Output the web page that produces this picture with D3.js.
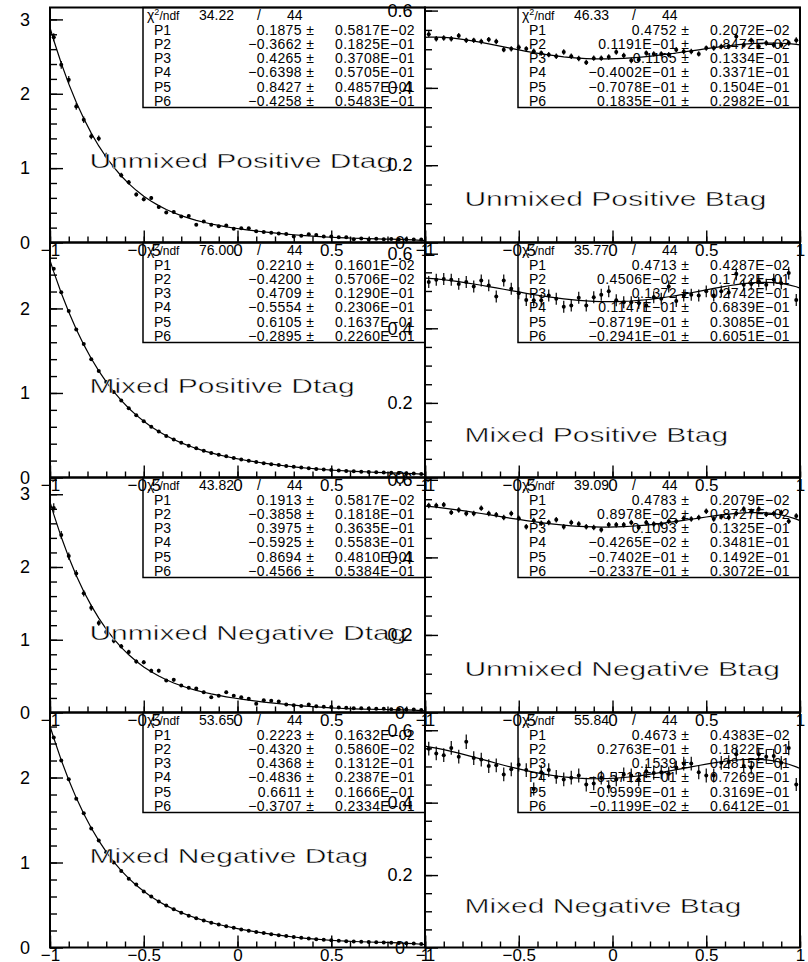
<!DOCTYPE html>
<html><head><meta charset="utf-8">
<script src="https://cdn.jsdelivr.net/npm/d3@7"></script>
<style>
html,body{margin:0;padding:0;background:#fff;}
svg{display:block;}
</style></head><body>
<svg id="chart" width="808" height="962"></svg>
<script>
// ---------------- DATA ----------------
const binCenters = d3.range(50).map(i => -0.98 + 0.04 * i);
const fitX = [-1].concat(binCenters, [1]);

const xTickValues = [-1, -0.5, 0, 0.5, 1];
const xTickLabels = ["\u22121", "\u22120.5", "0", "0.5", "1"];
const yTickValuesD = [0, 1, 2, 3];
const yTickLabelsD = ["0", "1", "2", "3"];
const yTickValuesB = [0, 0.2, 0.4, 0.6];
const yTickLabelsB = ["0", "0.2", "0.4", "0.6"];

const titles = ["Unmixed Positive Dtag", "Unmixed Positive Btag", "Mixed Positive Dtag", "Mixed Positive Btag",
                "Unmixed Negative Dtag", "Unmixed Negative Btag", "Mixed Negative Dtag", "Mixed Negative Btag"];

// measured bin contents
const valsA = [2.76, 2.39, 2.19, 1.83, 1.65, 1.43, 1.40, 1.17, 1.03, 0.905,
  0.81, 0.645, 0.58, 0.60, 0.477, 0.405, 0.41, 0.35, 0.355, 0.24,
  0.284, 0.24, 0.22, 0.23, 0.185, 0.19, 0.19, 0.15, 0.14, 0.13,
  0.12, 0.113, 0.08, 0.09, 0.11, 0.10, 0.08, 0.08, 0.07, 0.07,
  0.045, 0.055, 0.04, 0.05, 0.045, 0.048, 0.04, 0.045, 0.04, 0.04];
const errA = [0.055, 0.052, 0.05, 0.046, 0.044, 0.04, 0.04, 0.036, 0.034, 0.032,
  0.03, 0.027, 0.026, 0.026, 0.023, 0.021, 0.021, 0.02, 0.02, 0.016,
  0.018, 0.016, 0.015, 0.016, 0.014, 0.014, 0.014, 0.013, 0.012, 0.012,
  0.011, 0.011, 0.009, 0.01, 0.011, 0.01, 0.009, 0.009, 0.009, 0.009,
  0.007, 0.008, 0.007, 0.007, 0.007, 0.007, 0.007, 0.007, 0.007, 0.007];

const valsE = [0.539, 0.527, 0.529, 0.527, 0.535, 0.523, 0.523, 0.520, 0.525, 0.520,
  0.499, 0.501, 0.505, 0.501, 0.495, 0.490, 0.486, 0.482, 0.493, 0.482,
  0.476, 0.466, 0.477, 0.477, 0.480, 0.493, 0.484, 0.471, 0.473, 0.490,
  0.488, 0.488, 0.486, 0.499, 0.494, 0.494, 0.488, 0.503, 0.503, 0.507,
  0.507, 0.533, 0.511, 0.523, 0.507, 0.516, 0.511, 0.511, 0.516, 0.523];
const errE = [0.008, 0.007, 0.007, 0.007, 0.007, 0.007, 0.007, 0.007, 0.007, 0.007,
  0.007, 0.007, 0.007, 0.007, 0.007, 0.007, 0.007, 0.007, 0.007, 0.007,
  0.007, 0.007, 0.007, 0.007, 0.007, 0.007, 0.007, 0.007, 0.007, 0.007,
  0.007, 0.007, 0.007, 0.007, 0.007, 0.007, 0.007, 0.007, 0.007, 0.007,
  0.007, 0.008, 0.007, 0.007, 0.007, 0.007, 0.007, 0.007, 0.007, 0.008];

const valsB = [2.47, 2.19, 1.97, 1.75, 1.58, 1.40, 1.26, 1.13, 1.01, 0.91,
  0.82, 0.735, 0.665, 0.60, 0.545, 0.49, 0.45, 0.41, 0.375, 0.345,
  0.315, 0.29, 0.27, 0.25, 0.23, 0.213, 0.197, 0.183, 0.17, 0.158,
  0.147, 0.137, 0.127, 0.118, 0.11, 0.102, 0.095, 0.088, 0.083, 0.078,
  0.073, 0.069, 0.065, 0.062, 0.059, 0.055, 0.053, 0.049, 0.046, 0.042];
const errB = [0.016, 0.015, 0.014, 0.013, 0.012, 0.012, 0.011, 0.011, 0.01, 0.01,
  0.009, 0.009, 0.008, 0.008, 0.008, 0.007, 0.007, 0.007, 0.006, 0.006,
  0.006, 0.006, 0.005, 0.005, 0.005, 0.005, 0.005, 0.005, 0.004, 0.004,
  0.004, 0.004, 0.004, 0.004, 0.004, 0.003, 0.003, 0.003, 0.003, 0.003,
  0.003, 0.003, 0.003, 0.003, 0.003, 0.003, 0.003, 0.003, 0.003, 0.003];

const valsF = [0.524, 0.530, 0.532, 0.530, 0.519, 0.524, 0.512, 0.528, 0.515, 0.485,
  0.528, 0.506, 0.494, 0.476, 0.475, 0.475, 0.488, 0.479, 0.458, 0.461,
  0.482, 0.461, 0.483, 0.490, 0.499, 0.475, 0.470, 0.470, 0.468, 0.461,
  0.483, 0.479, 0.512, 0.473, 0.488, 0.490, 0.488, 0.499, 0.488, 0.499,
  0.496, 0.546, 0.517, 0.519, 0.526, 0.517, 0.530, 0.521, 0.548, 0.476];
const errF = [0.016, 0.016, 0.016, 0.016, 0.016, 0.016, 0.016, 0.016, 0.016, 0.016,
  0.016, 0.016, 0.016, 0.016, 0.016, 0.016, 0.016, 0.016, 0.016, 0.016,
  0.016, 0.016, 0.016, 0.016, 0.016, 0.016, 0.016, 0.016, 0.016, 0.016,
  0.016, 0.016, 0.016, 0.016, 0.016, 0.016, 0.016, 0.016, 0.016, 0.016,
  0.016, 0.017, 0.016, 0.016, 0.016, 0.016, 0.016, 0.016, 0.017, 0.016];

const valsC = [2.81, 2.44, 2.15, 1.91, 1.64, 1.44, 1.23, 1.105, 0.986, 0.91,
  0.83, 0.70, 0.69, 0.575, 0.575, 0.44, 0.45, 0.37, 0.34, 0.33,
  0.28, 0.21, 0.23, 0.28, 0.23, 0.21, 0.19, 0.12, 0.17, 0.16,
  0.15, 0.11, 0.10, 0.09, 0.11, 0.085, 0.08, 0.075, 0.07, 0.065,
  0.06, 0.06, 0.055, 0.05, 0.05, 0.045, 0.045, 0.04, 0.04, 0.035];
const errC = [0.065, 0.055, 0.05, 0.047, 0.044, 0.041, 0.038, 0.036, 0.034, 0.032,
  0.031, 0.028, 0.028, 0.026, 0.026, 0.022, 0.023, 0.02, 0.02, 0.019,
  0.018, 0.016, 0.016, 0.018, 0.016, 0.015, 0.015, 0.012, 0.014, 0.013,
  0.013, 0.011, 0.011, 0.01, 0.011, 0.01, 0.01, 0.009, 0.009, 0.009,
  0.008, 0.008, 0.008, 0.008, 0.008, 0.007, 0.007, 0.007, 0.007, 0.006];

const valsG = [0.534, 0.534, 0.536, 0.516, 0.522, 0.513, 0.513, 0.527, 0.513, 0.510,
  0.503, 0.513, 0.501, 0.479, 0.495, 0.488, 0.490, 0.497, 0.479, 0.490,
  0.486, 0.479, 0.477, 0.471, 0.484, 0.484, 0.484, 0.490, 0.477, 0.490,
  0.486, 0.486, 0.493, 0.493, 0.501, 0.499, 0.503, 0.519, 0.499, 0.505,
  0.503, 0.513, 0.525, 0.519, 0.525, 0.511, 0.513, 0.516, 0.493, 0.507];
const errG = [0.007, 0.007, 0.007, 0.007, 0.007, 0.007, 0.007, 0.007, 0.007, 0.007,
  0.007, 0.007, 0.007, 0.007, 0.007, 0.007, 0.007, 0.007, 0.007, 0.007,
  0.007, 0.007, 0.007, 0.007, 0.007, 0.007, 0.007, 0.007, 0.007, 0.007,
  0.007, 0.007, 0.007, 0.007, 0.007, 0.007, 0.007, 0.007, 0.007, 0.007,
  0.007, 0.007, 0.007, 0.007, 0.007, 0.007, 0.007, 0.007, 0.007, 0.007];

const valsD = [2.47, 2.20, 1.98, 1.75, 1.58, 1.40, 1.26, 1.12, 1.00, 0.90,
  0.81, 0.74, 0.66, 0.60, 0.54, 0.495, 0.45, 0.41, 0.375, 0.345,
  0.318, 0.292, 0.27, 0.25, 0.231, 0.213, 0.198, 0.183, 0.17, 0.157,
  0.145, 0.134, 0.124, 0.114, 0.106, 0.098, 0.091, 0.085, 0.08, 0.075,
  0.071, 0.068, 0.065, 0.062, 0.059, 0.057, 0.054, 0.05, 0.046, 0.042];
const errD = [0.016, 0.015, 0.014, 0.013, 0.012, 0.012, 0.011, 0.011, 0.01, 0.01,
  0.009, 0.009, 0.008, 0.008, 0.008, 0.007, 0.007, 0.007, 0.006, 0.006,
  0.006, 0.006, 0.005, 0.005, 0.005, 0.005, 0.005, 0.005, 0.004, 0.004,
  0.004, 0.004, 0.004, 0.004, 0.004, 0.003, 0.003, 0.003, 0.003, 0.003,
  0.003, 0.003, 0.003, 0.003, 0.003, 0.003, 0.003, 0.003, 0.003, 0.003];

const valsH = [0.549, 0.536, 0.531, 0.551, 0.527, 0.568, 0.523, 0.519, 0.501, 0.503,
  0.478, 0.492, 0.505, 0.490, 0.438, 0.484, 0.490, 0.471, 0.464, 0.469,
  0.475, 0.450, 0.453, 0.469, 0.444, 0.464, 0.478, 0.475, 0.464, 0.487,
  0.482, 0.484, 0.480, 0.497, 0.508, 0.508, 0.484, 0.475, 0.475, 0.510,
  0.512, 0.534, 0.501, 0.497, 0.534, 0.527, 0.529, 0.510, 0.551, 0.450];
const errH = [0.019, 0.019, 0.019, 0.019, 0.019, 0.02, 0.019, 0.019, 0.019, 0.019,
  0.019, 0.019, 0.019, 0.019, 0.018, 0.019, 0.019, 0.019, 0.019, 0.019,
  0.019, 0.019, 0.019, 0.019, 0.018, 0.019, 0.019, 0.019, 0.019, 0.019,
  0.019, 0.019, 0.019, 0.019, 0.019, 0.019, 0.019, 0.019, 0.019, 0.019,
  0.019, 0.019, 0.019, 0.019, 0.019, 0.019, 0.019, 0.019, 0.02, 0.018];

// fitted curves sampled at x = -1, bin centres, +1
const fitA = [2.8885, 2.7203, 2.4104, 2.1333, 1.8861, 1.6662, 1.4711, 1.2985, 1.1462, 1.0121, 0.8945, 0.7915, 0.7016, 0.6232, 0.5550, 0.4957, 0.4443, 0.3997, 0.3609, 0.3271, 0.2977, 0.2719, 0.2492, 0.2291, 0.2112, 0.1950,
  0.1803, 0.1669, 0.1546, 0.1431, 0.1325, 0.1225, 0.1132, 0.1045, 0.0965, 0.0890, 0.0822, 0.0760, 0.0704, 0.0655, 0.0612, 0.0574, 0.0542, 0.0515, 0.0490, 0.0467, 0.0444, 0.0417, 0.0384, 0.0342, 0.0285, 0.0249];
const fitB = [2.5673, 2.4324, 2.1823, 1.9568, 1.7539, 1.5716, 1.4082, 1.2620, 1.1315, 1.0151, 0.9115, 0.8195, 0.7378, 0.6654, 0.6012, 0.5444, 0.4941, 0.4495, 0.4100, 0.3749, 0.3437, 0.3158, 0.2908, 0.2683, 0.2480, 0.2296,
  0.2128, 0.1974, 0.1832, 0.1701, 0.1581, 0.1468, 0.1363, 0.1266, 0.1177, 0.1094, 0.1017, 0.0948, 0.0884, 0.0827, 0.0775, 0.0729, 0.0688, 0.0652, 0.0618, 0.0587, 0.0557, 0.0526, 0.0491, 0.0452, 0.0403, 0.0375];
const fitC = [2.8931, 2.7234, 2.4112, 2.1325, 1.8843, 1.6640, 1.4689, 1.2966, 1.1449, 1.0116, 0.8948, 0.7927, 0.7037, 0.6262, 0.5589, 0.5004, 0.4496, 0.4054, 0.3670, 0.3334, 0.3040, 0.2781, 0.2551, 0.2345, 0.2160, 0.1992,
  0.1837, 0.1695, 0.1562, 0.1438, 0.1321, 0.1212, 0.1109, 0.1013, 0.0923, 0.0841, 0.0766, 0.0698, 0.0638, 0.0585, 0.0541, 0.0503, 0.0473, 0.0448, 0.0428, 0.0410, 0.0393, 0.0374, 0.0349, 0.0314, 0.0265, 0.0233];
const fitD = [2.6065, 2.4652, 2.2042, 1.9701, 1.7605, 1.5732, 1.4062, 1.2576, 1.1256, 1.0086, 0.9050, 0.8133, 0.7323, 0.6609, 0.5978, 0.5420, 0.4928, 0.4492, 0.4105, 0.3761, 0.3454, 0.3178, 0.2929, 0.2704, 0.2499, 0.2311,
  0.2138, 0.1979, 0.1830, 0.1693, 0.1565, 0.1446, 0.1336, 0.1234, 0.1141, 0.1055, 0.0978, 0.0909, 0.0848, 0.0794, 0.0748, 0.0708, 0.0674, 0.0645, 0.0618, 0.0593, 0.0566, 0.0535, 0.0496, 0.0446, 0.0380, 0.0339];
const fitE = [0.5307, 0.5312, 0.5315, 0.5308, 0.5292, 0.5270, 0.5243, 0.5211, 0.5176, 0.5139, 0.5100, 0.5061, 0.5022, 0.4984, 0.4947, 0.4913, 0.4881, 0.4852, 0.4826, 0.4803, 0.4785, 0.4770, 0.4759, 0.4752, 0.4749, 0.4750,
  0.4755, 0.4763, 0.4775, 0.4790, 0.4808, 0.4829, 0.4852, 0.4877, 0.4903, 0.4930, 0.4958, 0.4986, 0.5014, 0.5041, 0.5067, 0.5091, 0.5112, 0.5130, 0.5144, 0.5155, 0.5160, 0.5161, 0.5155, 0.5143, 0.5124, 0.5112];
const fitF = [0.5347, 0.5340, 0.5323, 0.5302, 0.5277, 0.5250, 0.5220, 0.5188, 0.5154, 0.5119, 0.5083, 0.5047, 0.5010, 0.4974, 0.4938, 0.4904, 0.4872, 0.4841, 0.4814, 0.4788, 0.4766, 0.4748, 0.4733, 0.4722, 0.4715, 0.4713,
  0.4714, 0.4721, 0.4731, 0.4746, 0.4765, 0.4788, 0.4815, 0.4845, 0.4878, 0.4914, 0.4952, 0.4990, 0.5029, 0.5068, 0.5105, 0.5140, 0.5171, 0.5197, 0.5218, 0.5230, 0.5232, 0.5224, 0.5203, 0.5166, 0.5113, 0.5078];
const fitG = [0.5322, 0.5313, 0.5294, 0.5271, 0.5246, 0.5220, 0.5192, 0.5162, 0.5132, 0.5101, 0.5070, 0.5039, 0.5008, 0.4978, 0.4949, 0.4921, 0.4896, 0.4872, 0.4850, 0.4831, 0.4815, 0.4802, 0.4792, 0.4785, 0.4782, 0.4782,
  0.4785, 0.4792, 0.4803, 0.4817, 0.4834, 0.4853, 0.4876, 0.4901, 0.4927, 0.4955, 0.4984, 0.5013, 0.5042, 0.5070, 0.5095, 0.5118, 0.5136, 0.5150, 0.5157, 0.5156, 0.5147, 0.5127, 0.5094, 0.5048, 0.4987, 0.4949];
const fitH = [0.5559, 0.5543, 0.5507, 0.5465, 0.5417, 0.5367, 0.5313, 0.5258, 0.5201, 0.5145, 0.5089, 0.5034, 0.4981, 0.4931, 0.4884, 0.4841, 0.4802, 0.4767, 0.4736, 0.4711, 0.4691, 0.4675, 0.4666, 0.4661, 0.4662, 0.4668,
  0.4679, 0.4695, 0.4715, 0.4740, 0.4768, 0.4800, 0.4834, 0.4871, 0.4910, 0.4949, 0.4988, 0.5027, 0.5064, 0.5099, 0.5130, 0.5157, 0.5178, 0.5192, 0.5198, 0.5195, 0.5181, 0.5155, 0.5115, 0.5060, 0.4988, 0.4945];

// fit statistics
const chi2 = ["34.22", "46.33", "76.00", "35.77", "43.82", "39.09", "53.65", "55.84"];
const ndf = ["44", "44", "44", "44", "44", "44", "44", "44"];
const parA = ["0.1875", "\u22120.3662", "0.4265", "\u22120.6398", "0.8427", "\u22120.4258"];
const perA = ["0.5817E\u221202", "0.1825E\u221201", "0.3708E\u221201", "0.5705E\u221201", "0.4857E\u221201", "0.5483E\u221201"];
const parE = ["0.4752", "0.1191E\u221201", "0.1165", "\u22120.4002E\u221201", "\u22120.7078E\u221201", "0.1835E\u221201"];
const perE = ["0.2072E\u221202", "0.8472E\u221202", "0.1334E\u221201", "0.3371E\u221201", "0.1504E\u221201", "0.2982E\u221201"];
const parB = ["0.2210", "\u22120.4200", "0.4709", "\u22120.5554", "0.6105", "\u22120.2895"];
const perB = ["0.1601E\u221202", "0.5706E\u221202", "0.1290E\u221201", "0.2306E\u221201", "0.1637E\u221201", "0.2260E\u221201"];
const parF = ["0.4713", "0.4506E\u221202", "0.1372", "0.1147E\u221201", "\u22120.8719E\u221201", "\u22120.2941E\u221201"];
const perF = ["0.4287E\u221202", "0.1722E\u221201", "0.2742E\u221201", "0.6839E\u221201", "0.3085E\u221201", "0.6051E\u221201"];
const parC = ["0.1913", "\u22120.3858", "0.3975", "\u22120.5925", "0.8694", "\u22120.4566"];
const perC = ["0.5817E\u221202", "0.1818E\u221201", "0.3635E\u221201", "0.5583E\u221201", "0.4810E\u221201", "0.5384E\u221201"];
const parG = ["0.4783", "0.8978E\u221202", "0.1093", "\u22120.4265E\u221202", "\u22120.7402E\u221201", "\u22120.2337E\u221201"];
const perG = ["0.2079E\u221202", "0.8727E\u221202", "0.1325E\u221201", "0.3481E\u221201", "0.1492E\u221201", "0.3072E\u221201"];
const parD = ["0.2223", "\u22120.4320", "0.4368", "\u22120.4836", "0.6611", "\u22120.3707"];
const perD = ["0.1632E\u221202", "0.5860E\u221202", "0.1312E\u221201", "0.2387E\u221201", "0.1666E\u221201", "0.2334E\u221201"];
const parH = ["0.4673", "0.2763E\u221201", "0.1539", "\u22120.5712E\u221201", "\u22120.9599E\u221201", "\u22120.1199E\u221202"];
const perH = ["0.4383E\u221202", "0.1822E\u221201", "0.2815E\u221201", "0.7269E\u221201", "0.3169E\u221201", "0.6412E\u221201"];

// ---------------- LAYOUT ----------------
const FONT = '"Liberation Sans", Arial, Helvetica, sans-serif';
const colX = [50, 425], colW = 375;
const rowY = [7.5, 242.5, 477.5, 712.5], rowH = 235;

const panels = [
  {r:0, c:0, vals:valsA, err:errA, fit:fitA, par:parA, per:perA, yMax:3.16, kind:"D"},
  {r:0, c:1, vals:valsE, err:errE, fit:fitE, par:parE, per:perE, yMax:0.608, kind:"B"},
  {r:1, c:0, vals:valsB, err:errB, fit:fitB, par:parB, per:perB, yMax:2.78, kind:"D"},
  {r:1, c:1, vals:valsF, err:errF, fit:fitF, par:parF, per:perF, yMax:0.63, kind:"B"},
  {r:2, c:0, vals:valsC, err:errC, fit:fitC, par:parC, per:perC, yMax:3.23, kind:"D"},
  {r:2, c:1, vals:valsG, err:errG, fit:fitG, par:parG, per:perG, yMax:0.606, kind:"B"},
  {r:3, c:0, vals:valsD, err:errD, fit:fitD, par:parD, per:perD, yMax:2.765, kind:"D"},
  {r:3, c:1, vals:valsH, err:errH, fit:fitH, par:parH, per:perH, yMax:0.649, kind:"B"}
];

const svg = d3.select("#chart");
svg.append("rect").attr("width", 808).attr("height", 962).attr("fill", "#fff");

panels.forEach((p, k) => {
  const x0 = colX[p.c], y0 = rowY[p.r];
  const x = d3.scaleLinear().domain([-1, 1]).range([x0, x0 + colW]);
  const y = d3.scaleLinear().domain([0, p.yMax]).range([y0 + rowH, y0]);
  const g = svg.append("g");

  // frame
  g.append("rect").attr("x", x0).attr("y", y0).attr("width", colW).attr("height", rowH)
    .attr("fill", "none").attr("stroke", "#000").attr("stroke-width", 2);

  // x axis (ticks inward)
  const xMinor = d3.range(-10, 11).map(v => v / 10);
  const gxm = g.append("g").attr("transform", `translate(0,${y0 + rowH})`)
    .call(d3.axisBottom(x).tickValues(xMinor).tickFormat("").tickSize(-6).tickSizeOuter(0));
  gxm.select(".domain").remove();
  const gx = g.append("g").attr("transform", `translate(0,${y0 + rowH})`)
    .call(d3.axisBottom(x).tickValues(xTickValues).tickFormat((d, i) => xTickLabels[i]).tickSize(-12).tickPadding(1).tickSizeOuter(0));
  gx.select(".domain").remove();
  gx.attr("font-size", 17).attr("font-family", FONT);

  // y axis
  const isD = p.kind === "D";
  const yMajV = (isD ? yTickValuesD : yTickValuesB).filter(v => v <= p.yMax + 1e-9);
  const yLab = isD ? yTickLabelsD : yTickLabelsB;
  const step = isD ? 0.2 : 0.05;
  const nMin = Math.floor(p.yMax / step + 1e-6);
  const yMin = d3.range(0, nMin + 1).map(i => +(i * step).toFixed(3));
  const gym = g.append("g").attr("transform", `translate(${x0},0)`)
    .call(d3.axisLeft(y).tickValues(yMin).tickFormat("").tickSize(-7).tickSizeOuter(0));
  gym.select(".domain").remove();
  const gy = g.append("g").attr("transform", `translate(${x0},0)`)
    .call(d3.axisLeft(y).tickValues(yMajV).tickFormat((d, i) => yLab[i]).tickSize(-13).tickSizeOuter(0));
  gy.select(".domain").remove();
  gy.attr("font-size", 18).attr("font-family", FONT);
  gy.selectAll("text").attr("text-anchor", "middle").attr("x", -25);

  g.selectAll(".tick line").attr("stroke", "#000").attr("stroke-width", 1.4);
  g.selectAll(".tick text").attr("fill", "#000");

  // fit curve
  g.append("path").datum(p.fit)
    .attr("d", d3.line().x((d, i) => x(fitX[i])).y(d => y(d)))
    .attr("fill", "none").attr("stroke", "#000").attr("stroke-width", 1.2);

  // data points with error bars
  const pts = g.append("g");
  p.vals.forEach((v, i) => {
    const cx = x(binCenters[i]);
    pts.append("line").attr("x1", cx).attr("x2", cx)
      .attr("y1", y(v - p.err[i])).attr("y2", y(v + p.err[i]))
      .attr("stroke", "#000").attr("stroke-width", 1.2);
    pts.append("circle").attr("cx", cx).attr("cy", y(v)).attr("r", 2).attr("fill", "#000");
  });

  // stats box
  const bx = x0 + colW - 282;
  g.append("rect").attr("x", bx).attr("y", y0).attr("width", 282).attr("height", 100)
    .attr("fill", "none").attr("stroke", "#000").attr("stroke-width", 1.5);
  const tb = g.append("g").attr("font-family", FONT).attr("fill", "#000");
  const chiT = tb.append("text").attr("x", bx + 4).attr("y", y0 + 12.5).attr("font-size", 14);
  chiT.append("tspan").text("\u03C7");
  chiT.append("tspan").attr("font-size", 9).attr("dy", -5).text("2");
  chiT.append("tspan").attr("font-size", 12).attr("dy", 5).text("/ndf");
  tb.append("text").attr("x", bx + 56).attr("y", y0 + 12.5).attr("font-size", 14).text(chi2[k]);
  tb.append("text").attr("x", bx + 114).attr("y", y0 + 12.5).attr("font-size", 14).text("/");
  tb.append("text").attr("x", bx + 144).attr("y", y0 + 12.5).attr("font-size", 14).text(ndf[k]);
  p.par.forEach((pv, j) => {
    const by = y0 + 27 + 14.3 * j;
    tb.append("text").attr("x", bx + 11).attr("y", by).attr("font-size", 14).text("P" + (j + 1));
    tb.append("text").attr("x", bx + 159).attr("y", by).attr("font-size", 14)
      .attr("text-anchor", "end").attr("letter-spacing", 0.4).text(pv);
    tb.append("text").attr("x", bx + 167).attr("y", by).attr("font-size", 14)
      .attr("text-anchor", "middle").text("\u00B1");
    tb.append("text").attr("x", bx + 272).attr("y", by).attr("font-size", 14)
      .attr("text-anchor", "end").attr("letter-spacing", 0.4).text(p.per[j]);
  });

  // title
  const t = g.append("text").attr("font-family", FONT).attr("font-size", 21).attr("fill", "#000")
    .attr("stroke", "#fff").attr("stroke-width", 0.45)
    .attr("x", x(-0.79)).attr("y", y(isD ? 1 : 0.095)).text(titles[k]);
  const w = t.node().getComputedTextLength();
  t.attr("textLength", w * 1.43).attr("lengthAdjust", "spacingAndGlyphs");
});
</script>
</body></html>
